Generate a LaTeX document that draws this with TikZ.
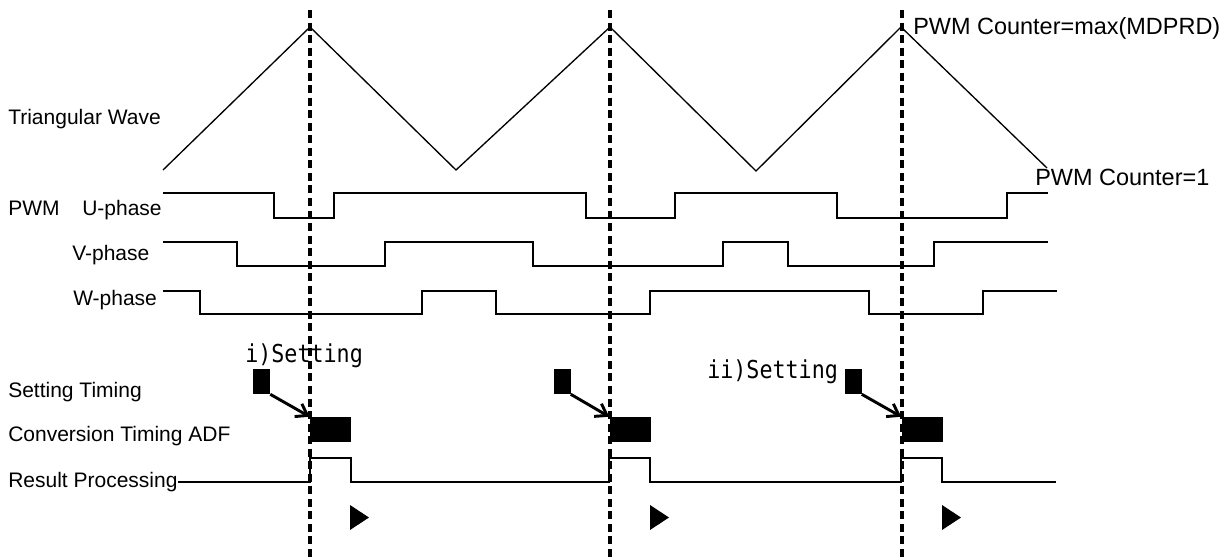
\documentclass[tikz,border=0pt]{standalone}
\usepackage{fontspec}
\setmainfont{Liberation Sans}
\newfontfamily\setfont[FakeStretch=0.88]{DejaVu Sans Mono}
\usetikzlibrary{arrows.meta}

\tikzset{
	wave/.style={line width=1pt},
	peakline/.style={line width=2.4pt, dash pattern=on 6pt off 3.4pt},
	lbl/.style={anchor=base west, inner sep=0pt, font=\fontsize{15.75}{18}\selectfont},
	cntlbl/.style={anchor=base west, inner sep=0pt, font=\fontsize{17.6}{20}\selectfont},
	setlbl/.style={anchor=base west, inner sep=0pt, font=\setfont\fontsize{18.5}{21}\selectfont},
	setbox/.style={fill=black, inner sep=0pt, minimum width=12.75pt, minimum height=18.75pt},
	convbox/.style={fill=black, inner sep=0pt, minimum width=30.75pt, minimum height=18.75pt},
	trig/.style={line width=2.2pt, -{Straight Barb[length=8pt,width=11pt]}}
}

\begin{document}
\begin{tikzpicture}[x=0.75pt,y=-0.75pt]

	\useasboundingbox (0,0) rectangle (1231,558);

	% labels on the left
	\node[lbl] (tri)  at (8,124)  {Triangular Wave};
	\node[lbl] (pwm)  at (8,215)  {PWM};
	\node[lbl] (uph)  at (82,215) {U-phase};
	\node[lbl] (vph)  at (72,260) {V-phase};
	\node[lbl] (wph)  at (73,305) {W-phase};
	\node[lbl] (sett) at (8,397)  {Setting Timing};
	\node[lbl] (conv) at (8,441)  {Conversion Timing ADF};
	\node[lbl] (res)  at (8,487)  {Result Processing};

	% triangular wave
	\coordinate (pk1) at (310,27);
	\coordinate (pk2) at (610,27);
	\coordinate (pk3) at (901,27);
	\draw[wave] (163,170) -- (pk1) -- (456,170) -- (pk2) -- (756,171) -- (pk3) -- (1047,168);

	\node[cntlbl] (cmax) at (913,34)   {PWM Counter=max(MDPRD)};
	\node[cntlbl] (cmin) at (1035,185) {PWM Counter=1};

	% PWM phases
	\draw[wave] (163,193) -| (274,218) -| (334,193) -| (586,218) -| (675,193) -| (837,218) -| (1007,193) -- (1048,193);
	\draw[wave] (163,242) -| (237,266) -| (385,242) -| (533,266) -| (723,242) -| (788,266) -| (934,242) -- (1048,242);
	\draw[wave] (163,291) -| (200,314) -| (422,291) -| (496,314) -| (650,291) -| (869,314) -| (983,291) -- (1057,291);

	% result processing
	\draw[line width=1.3pt] (178,482) -| (310,458) -| (351,482) -| (609,458) -| (650,482) -| (901,458) -| (942,482) -- (1056,482);

	% dashed lines through the peaks
	\foreach \x in {310,610,902}
		\draw[peakline] (\x,10) -- (\x,558);

	% setting and conversion
	\foreach \i/\s/\c in {1/261.5/330.5, 2/562/630, 3/853/922} {
		\node[setbox]  (set\i) at (\s,381.5) {};
		\node[convbox] (adc\i) at (\c,429.5) {};
		\draw[trig] (set\i.south east) -- (adc\i.north west);
	}

	\node[setlbl] (seti)  at (245,362) {i)Setting};
	\node[setlbl] (setii) at (707,378) {ii)Setting};

	% markers
	\foreach \x in {350,650,942}
		\fill (\x,505) -- (\x+19,517.5) -- (\x,530) -- cycle;

\end{tikzpicture}
\end{document}
